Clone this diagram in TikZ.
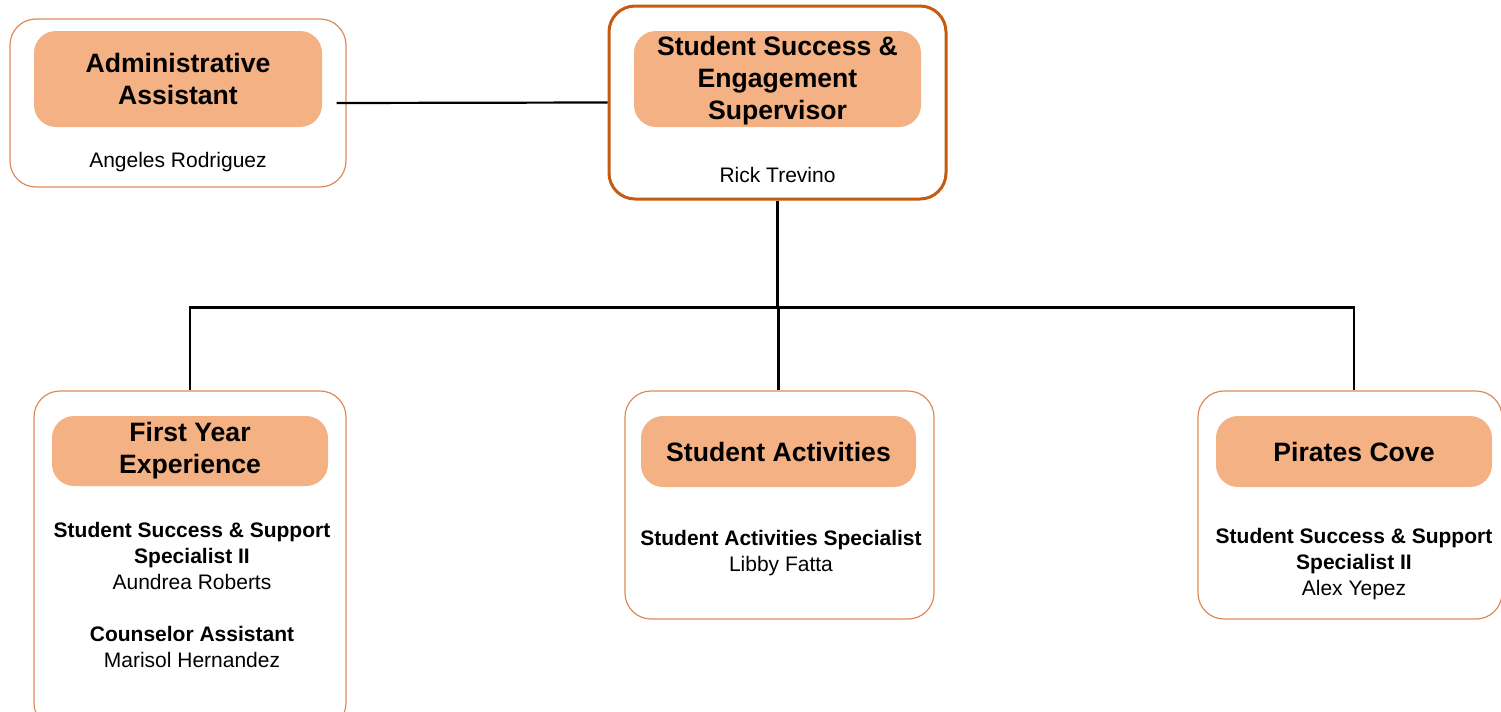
\documentclass[tikz,border=0pt]{standalone}
\usepackage{fontspec}
\setmainfont{Liberation Sans}
\definecolor{headfill}{HTML}{F4B183}
\definecolor{unitline}{HTML}{DE8A57}
\definecolor{chiefline}{HTML}{C55A11}
\begin{document}
\begin{tikzpicture}[x=0.5pt, y=-0.5pt,
  unit/.style={draw=unitline, line width=0.6pt, rounded corners=13pt, inner sep=0pt},
  chief/.style={unit, draw=chiefline, line width=1.5pt},
  head/.style={fill=headfill, rounded corners=11pt, inner sep=0pt, align=center,
    font=\bfseries\fontsize{13.3}{16}\selectfont},
  body/.style={align=center, inner sep=0pt, font=\fontsize{10.5}{13}\selectfont},
  link/.style={draw, line width=1.1pt}]
  \useasboundingbox (0,0) rectangle (1501,712);
  \clip (0,0) rectangle (1501,712);
  \node[unit, minimum width=168pt, minimum height=84pt] (admin) at (178,103) {};
  \node[head, minimum width=144pt, minimum height=48pt] (adminhd) at (178,79)
    {Administrative\\Assistant};
  \node[body] (adminnm) at (178,162) {Angeles Rodriguez};
  \node[chief, minimum width=168.5pt, minimum height=96.5pt] (sup) at (777.5,102.5) {};
  \node[head, minimum width=143.5pt, minimum height=48pt] (suphd) at (777.5,79)
    {\strut Student Success \&\\Engagement\\Supervisor};
  \node[body] (supnm) at (777.5,175) {Rick Trevino};
  \node[unit, minimum width=156pt, minimum height=169pt] (fye) at (190,560) {};
  \node[head, minimum width=138pt, minimum height=35pt] (fyehd) at (190,451)
    {First Year\\Experience};
  \node[body] (fyenm) at (192,595)
    {\textbf{Student Success \& Support}\\\textbf{Specialist II}\\Aundrea Roberts\\[13pt]
     \textbf{Counselor Assistant}\\Marisol Hernandez};
  \node[unit, minimum width=154.5pt, minimum height=114pt] (sa) at (779.5,505) {};
  \node[head, minimum width=137.5pt, minimum height=35.5pt] (sahd) at (778.5,451.5)
    {Student Activities};
  \node[body] (sanm) at (781,553) {\textbf{Student Activities Specialist}\\Libby Fatta};
  \node[unit, minimum width=152pt, minimum height=114pt] (pc) at (1350,505) {};
  \node[head, minimum width=138pt, minimum height=35.5pt] (pchd) at (1354,451.5)
    {Pirates Cove};
  \node[body] (pcnm) at (1354,564)
    {\textbf{Student Success \& Support}\\\textbf{Specialist II}\\Alex Yepez};
  \draw[link] ([xshift=-5pt]admin.east) -- (sup.west);
  \draw[link] (sup.south) -- ++(0,107) coordinate (bus);
  \draw[link] (bus) -| (fyehd.north |- fye.north);
  \draw[link] (bus) -| (sahd.north |- sa.north);
  \draw[link] (bus) -| (pchd.north |- pc.north);
\end{tikzpicture}
\end{document}
